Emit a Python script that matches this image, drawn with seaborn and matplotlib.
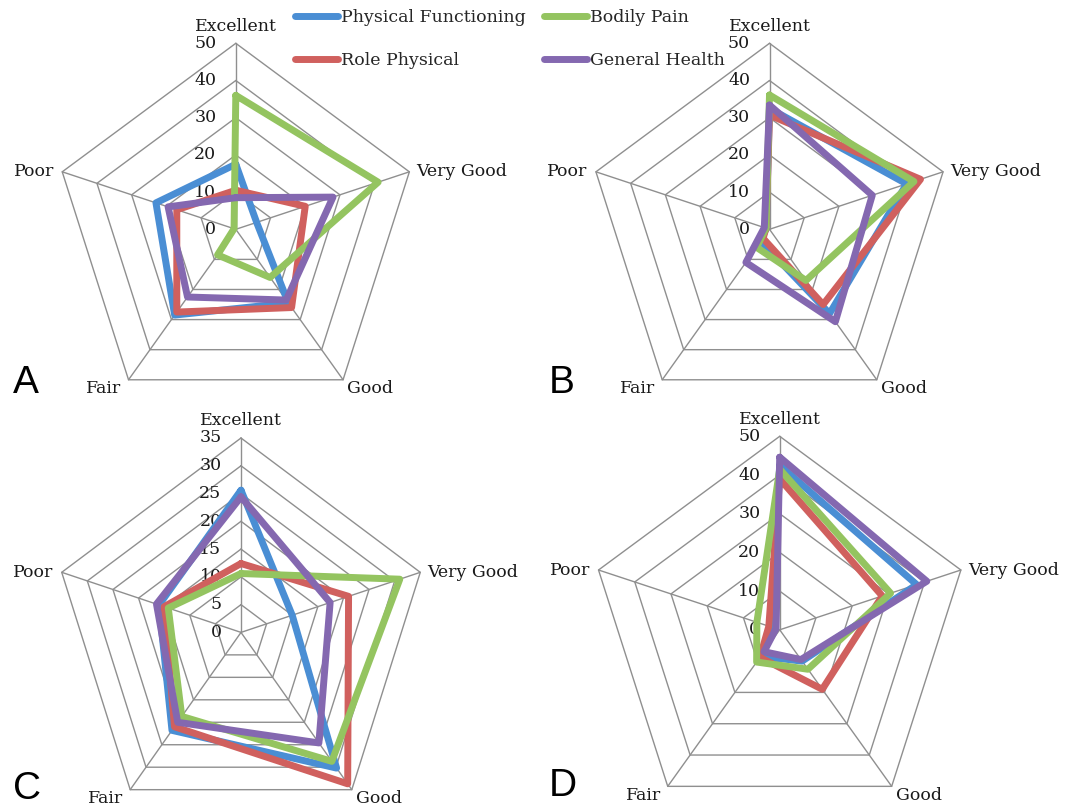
import numpy as np
import pandas as pd
import matplotlib
matplotlib.use("Agg")
import matplotlib.pyplot as plt
import seaborn as sns
from matplotlib.lines import Line2D

sns.set_style("white")
plt.rcParams['font.family'] = ['DejaVu Serif']

# categories around the radar (clockwise from top)
categories = ["Excellent", "Very Good", "Good", "Fair", "Poor"]
series = ["Physical Functioning", "Role Physical", "Bodily Pain", "General Health"]
colors = ["#4a8ed4", "#d0605e", "#94c460", "#8468b0"]

# values, one list per series (E, VG, G, F, P)
a_pf = [17.5, 6, 24.5, 28.5, 23]
a_rp = [10.5, 20, 26, 27.5, 17]
a_bp = [36, 41, 16, 8.5, 0.5]
a_gh = [8.5, 28, 23.5, 22.5, 19.5]

b_pf = [32.5, 39.5, 28, 4, 1]
b_rp = [30.7, 43.5, 25, 3, 1]
b_bp = [36.1, 41.6, 17, 6, 1]
b_gh = [33.4, 29.6, 30.7, 11, 1.5]

c_pf = [25.6, 10, 30.2, 21.8, 16]
c_rp = [12.4, 21, 33.7, 21, 15]
c_bp = [10.6, 31, 28.7, 18.7, 14.2]
c_gh = [24.4, 17.4, 24.6, 20, 16.5]

d_pf = [42.5, 37.8, 10, 8.5, 2.5]
d_rp = [39, 28.3, 19, 8.8, 3]
d_bp = [41.5, 30.6, 12.6, 10.3, 6.3]
d_gh = [44.6, 40.6, 9.5, 7, 1]

panels = [
    ("A", [a_pf, a_rp, a_bp, a_gh], 50, 10),
    ("B", [b_pf, b_rp, b_bp, b_gh], 50, 10),
    ("C", [c_pf, c_rp, c_bp, c_gh], 35, 5),
    ("D", [d_pf, d_rp, d_bp, d_gh], 50, 10),
]

# pixel geometry of each radar: centre x, centre y, x radius, y radius
geom = [
    (235.8, 229.3, 182.5, 186.0),
    (769.5, 229.3, 182.5, 186.0),
    (241.0, 632.4, 188.5, 194.4),
    (779.7, 629.8, 190.5, 193.5),
]
letter_pos = [(13, 393), (549, 393), (13, 799), (549, 796)]

W, H = 1068, 806
fig = plt.figure(figsize=(W / 100, H / 100), dpi=100)

angles = np.arange(len(categories)) * 2 * np.pi / len(categories)
closed = np.append(angles, angles[0])

label_style = {
    "Excellent": dict(xytext=(0, 9), ha="center", va="baseline"),
    "Very Good": dict(xytext=(5, 0), ha="left", va="center"),
    "Good": dict(xytext=(3, -0.5), ha="left", va="top"),
    "Fair": dict(xytext=(-5, -0.5), ha="right", va="top"),
    "Poor": dict(xytext=(-6, 0), ha="right", va="center"),
}

fs = 12.5
grid_c = "#8f8f8f"
for (letter, vals, rmax, step), (cx, cy, rx, ry), (lx, ly) in zip(panels, geom, letter_pos):
    rect = [(cx - rx) / W, 1 - (cy + ry) / H, 2 * rx / W, 2 * ry / H]
    ax = fig.add_axes(rect, projection="polar")
    ax.set_aspect("auto")
    ax.set_theta_zero_location("N")
    ax.set_theta_direction(-1)
    ax.set_ylim(0, rmax)
    ax.grid(False)
    ax.spines["polar"].set_visible(False)
    ax.patch.set_visible(False)
    ax.set_xticks([])
    ax.set_yticks([])

    # pentagon rings and spokes
    rings = np.arange(step, rmax + step / 2, step)
    for r in rings:
        ax.plot(closed, [r] * len(closed), color=grid_c, lw=1.0, clip_on=False, zorder=1)
    for a in angles:
        ax.plot([a, a], [0, rmax], color=grid_c, lw=1.0, clip_on=False, zorder=1)

    # radial tick labels
    for r in np.arange(0, rmax + step / 2, step):
        ax.annotate(f"{int(r)}", xy=(0, r), xytext=(-14, 0), textcoords="offset points",
                    ha="right", va="center", fontsize=fs, color="#1a1a1a",
                    annotation_clip=False)

    # category labels
    for a, cat in zip(angles, categories):
        st = label_style[cat]
        ax.annotate(cat, xy=(a, rmax), xytext=st["xytext"], textcoords="offset points",
                    ha=st["ha"], va=st["va"], fontsize=fs, color="#1a1a1a",
                    annotation_clip=False)

    # data polygons
    rows = []
    for name, v in zip(series, vals):
        for i, th in enumerate(closed):
            rows.append({"series": name, "theta": th, "value": v[i % len(v)]})
    df = pd.DataFrame(rows)
    sns.lineplot(data=df, x="theta", y="value", hue="series", hue_order=series,
                 palette=colors, sort=False, estimator=None, units="series",
                 lw=5, legend=False, ax=ax, zorder=3)
    for ln in ax.get_lines()[-len(series):]:
        ln.set_solid_joinstyle("round")
        ln.set_solid_capstyle("round")
    ax.set_xlabel("")
    ax.set_ylabel("")
    ax.set_ylim(0, rmax)

    fig.text(lx / W, 1 - ly / H, letter, ha="left", va="baseline",
             fontsize=28, family="Liberation Sans", color="black")

handles = [Line2D([0], [0], color=c, lw=5, solid_capstyle="round") for c in colors]
fig.legend(handles, series, loc="upper left", bbox_to_anchor=(295 / W, 1 - 9 / H),
           ncol=2, frameon=False, fontsize=fs, handlelength=2.5, handletextpad=0.15,
           columnspacing=1.05, labelspacing=1.5, borderpad=0, borderaxespad=0)

fig.savefig("out.png", dpi=100, facecolor="white")
